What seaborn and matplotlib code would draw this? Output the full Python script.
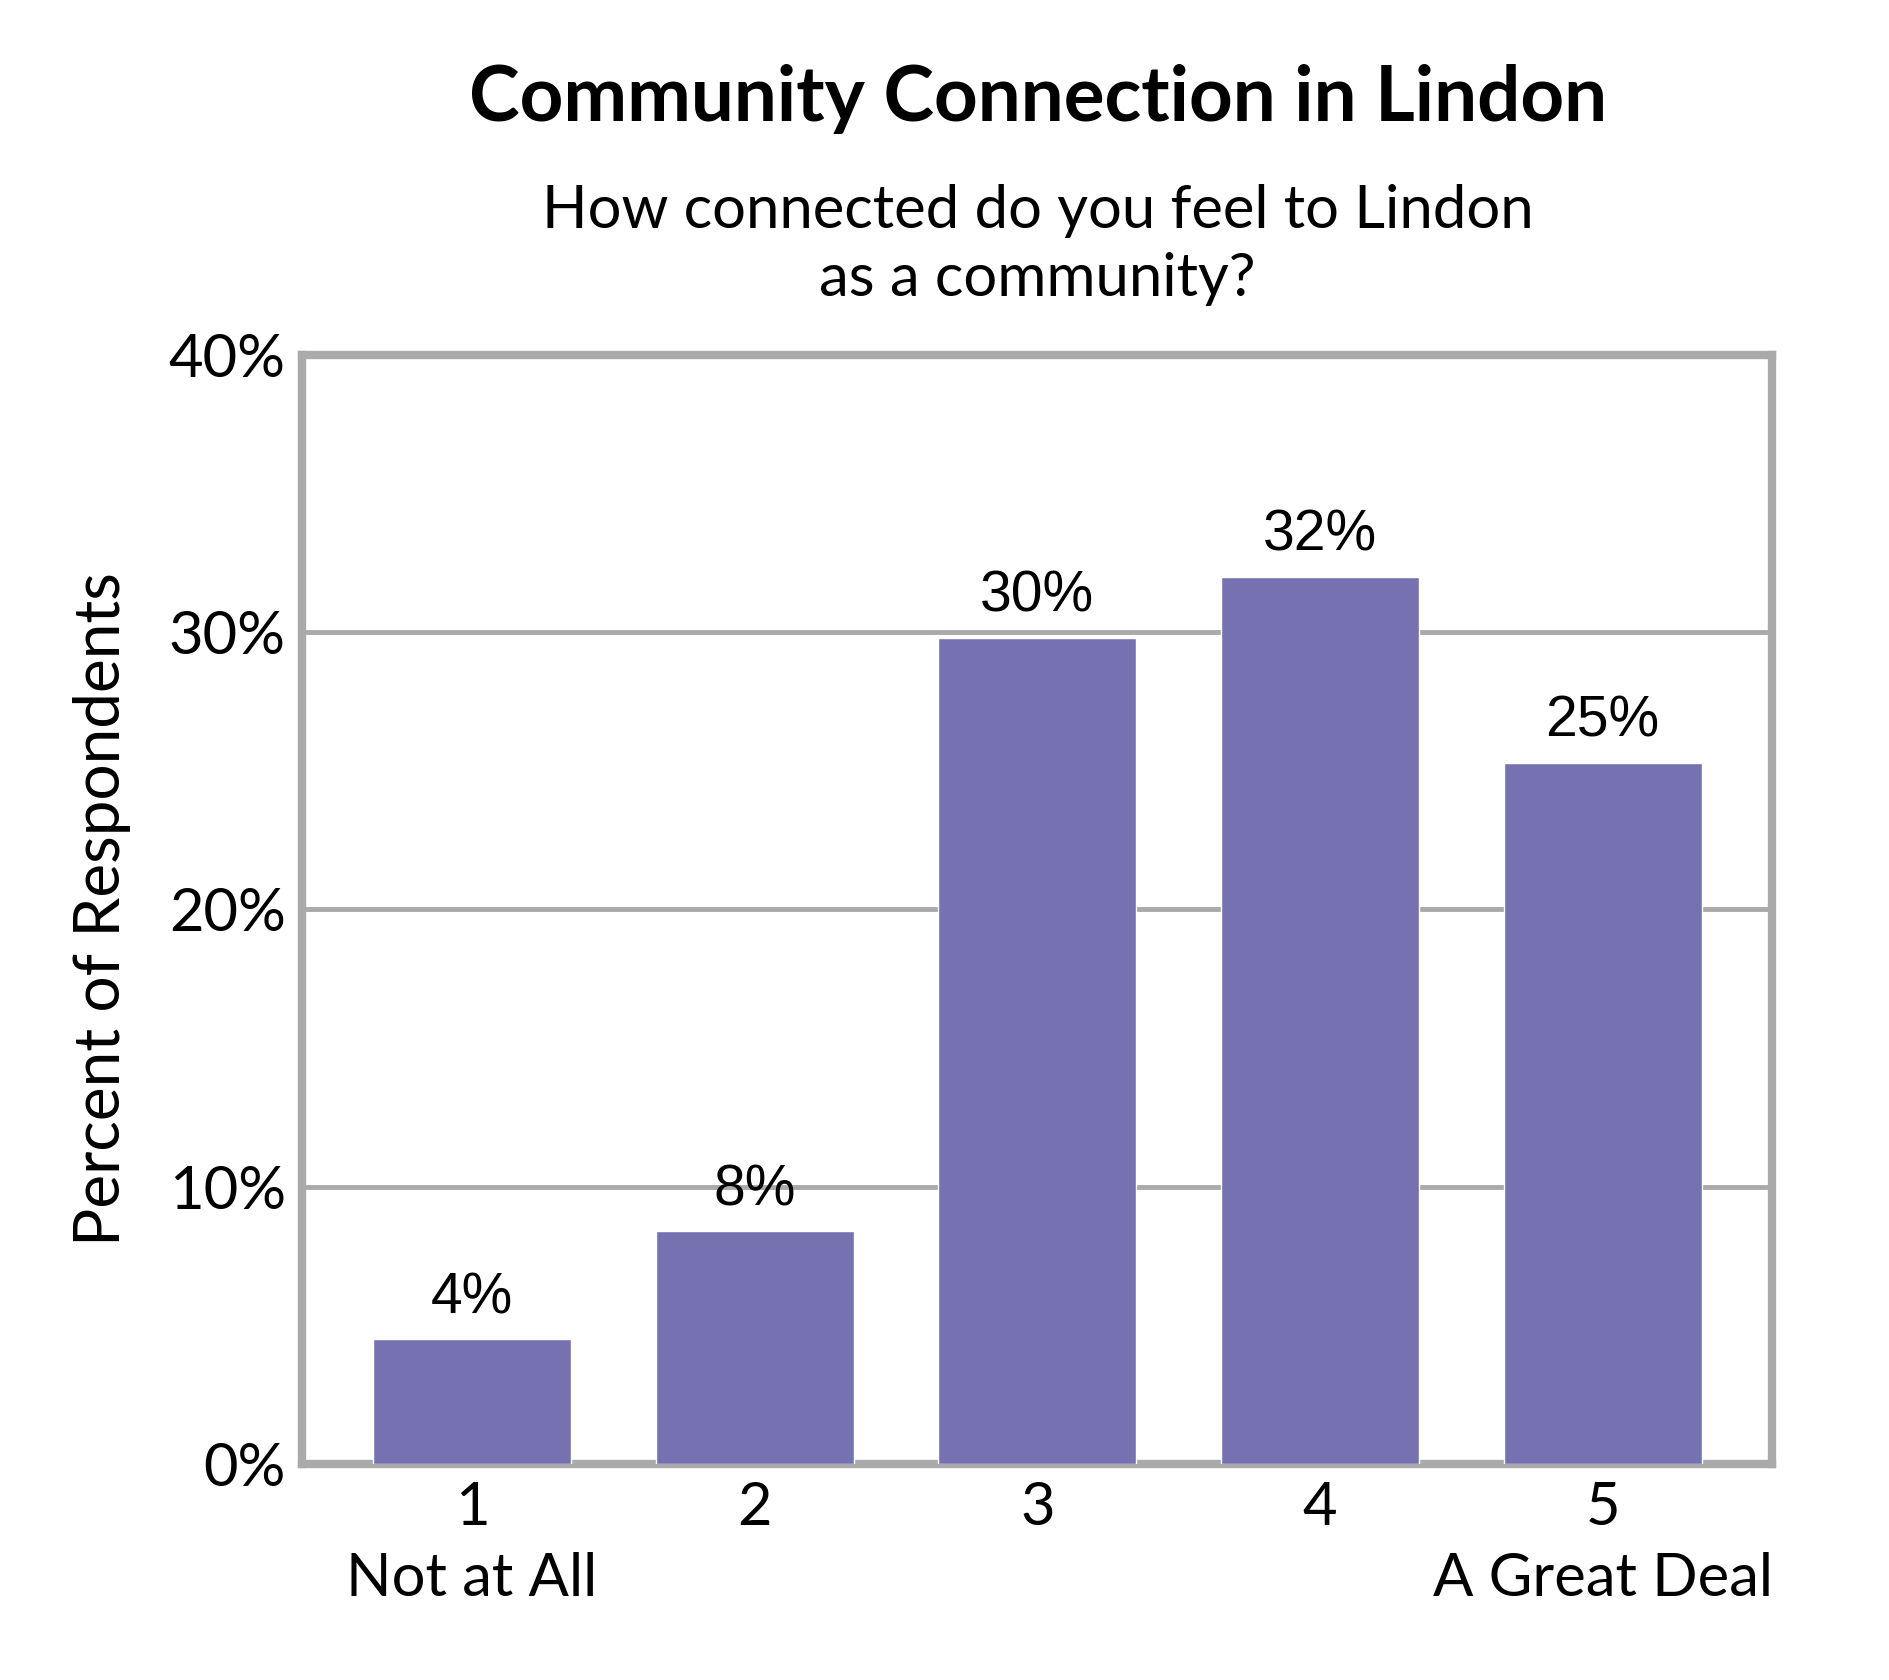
import matplotlib
matplotlib.use("Agg")
import matplotlib.pyplot as plt
import seaborn as sns
import pandas as pd

# values
ratings = ["1", "2", "3", "4", "5"]
tick_labels = ["1\nNot at All", "2", "3", "4", "5\nA Great Deal"]
percents = [4.5, 8.4, 29.8, 32.0, 25.3]
bar_labels = ["4%", "8%", "30%", "32%", "25%"]

title = "Community Connection in Lindon"
subtitle = "How connected do you feel to Lindon\nas a community?"

bar_color = "#7672B2"
grid_color = "#AAAAAA"

sns.set_style("white")
plt.rcParams["font.family"] = ["Lato", "DejaVu Sans"]
plt.rcParams["text.color"] = "black"
plt.rcParams["axes.labelcolor"] = "black"
plt.rcParams["xtick.color"] = "black"
plt.rcParams["ytick.color"] = "black"

df = pd.DataFrame({"rating": ratings, "percent": percents})

fig = plt.figure(figsize=(18.9, 16.8), dpi=100)
ax = fig.add_axes([0.160, 0.1286, 0.7777, 0.6601])

sns.barplot(data=df, x="rating", y="percent", color=bar_color,
            saturation=1, width=0.7, ax=ax, zorder=3)

ax.set_ylim(0, 40)
ax.set_xlim(-0.6, 4.6)
ax.set_yticks([0, 10, 20, 30, 40])
ax.set_yticklabels(["0%", "10%", "20%", "30%", "40%"])
ax.set_xticks(range(len(ratings)))
ax.set_xticklabels(tick_labels, linespacing=1.4)
ax.tick_params(axis="both", labelsize=43, length=0, pad=12)
ax.set_xlabel("")
ax.set_ylabel("Percent of Respondents", fontsize=46, labelpad=27)

ax.grid(axis="y", color=grid_color, linewidth=3.5, zorder=0)
for s in ax.spines.values():
    s.set_visible(True)
    s.set_color(grid_color)
    s.set_linewidth(6)

ax.bar_label(ax.containers[0], labels=bar_labels, padding=10,
             fontsize=41, family="Liberation Sans")

fig.text(0.549, 0.941, title, ha="center", va="center",
         fontsize=55, fontweight="bold")
fig.text(0.549, 0.854, subtitle, ha="center", va="center",
         fontsize=43, linespacing=1.32)

fig.savefig("out.png", dpi=100, facecolor="white")
